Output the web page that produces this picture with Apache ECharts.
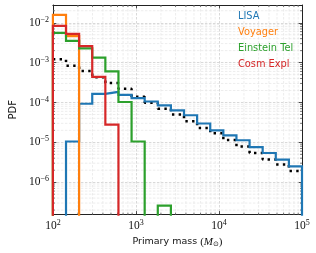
<!DOCTYPE html>
<html><head><meta charset="utf-8">
<script src="https://cdn.jsdelivr.net/npm/echarts@6/dist/echarts.min.js"></script>
<style>html,body{margin:0;padding:0;background:#fff}#c{width:316px;height:253px}</style>
</head><body><div id="c"></div>
<script>
// Bin edges (primary mass, solar masses), 19 log-spaced bins from 1e2 to 1e5
const binEdges = [100, 143.8, 206.9, 297.6, 428.1, 615.8, 885.9, 1274.3, 1833.0, 2636.7,
  3792.7, 5455.6, 7847.6, 11288, 16238, 23357, 33598, 48329, 69519, 100000];
// PDF per bin (0 = empty bin)
const lisa = [0, 1.05e-5, 9.3e-5, 1.65e-4, 1.85e-4, 1.56e-4, 1.29e-4, 1.06e-4, 8.45e-5, 6.35e-5,
  4.78e-5, 2.97e-5, 2.0e-5, 1.5e-5, 1.13e-5, 7.6e-6, 5.4e-6, 3.7e-6, 2.5e-6];
const voyager = [1.58e-2, 4.6e-3, 0, 0, 0, 0, 0, 0, 0, 0, 0, 0, 0, 0, 0, 0, 0, 0, 0];
const einstein = [5.6e-3, 3.5e-3, 2.27e-3, 1.34e-3, 6.0e-4, 1.03e-4, 1.05e-5, 0, 2.6e-7, 0,
  0, 0, 0, 0, 0, 0, 0, 0, 0];
const cosmic = [8.4e-3, 5.25e-3, 2.6e-3, 4.4e-4, 2.8e-5, 0, 0, 0, 0, 0, 0, 0, 0, 0, 0, 0, 0, 0, 0];
const reference = [1.21e-3, 8.3e-4, 6.2e-4, 4.3e-4, 3.1e-4, 2.2e-4, 1.39e-4, 9.9e-5, 7.0e-5, 5.0e-5,
  3.4e-5, 2.3e-5, 1.7e-5, 1.15e-5, 7.9e-6, 5.4e-6, 3.7e-6, 2.8e-6, 1.9e-6];
const seriesNames = ['LISA', 'Voyager', 'Einstein Tel', 'Cosm Expl'];
const seriesColors = ['#1f77b4', '#ff7f0e', '#2ca02c', '#d62728'];
// axis ranges and ticks
const X_MIN = 100, X_MAX = 100000;
const Y_MIN = 1.54e-7, Y_MAX = 0.0279;
const minorMultipliers = [2, 3, 4, 5, 6, 7, 8, 9];
const xDecades = [100, 1000, 10000];
const yDecades = [1e-7, 1e-6, 1e-5, 1e-4, 1e-3, 1e-2];

const FLOOR = 1e-12;
const xMinor = [];
xDecades.forEach(d => minorMultipliers.forEach(m => { const v = d * m; if (v > X_MIN && v < X_MAX) xMinor.push(v); }));
const yMinor = [];
yDecades.forEach(d => minorMultipliers.forEach(m => { const v = d * m; if (v > Y_MIN && v < Y_MAX) yMinor.push(v); }));

function histOutline(vals) {
  const pts = [[binEdges[0], FLOOR]];
  vals.forEach((v, i) => pts.push([binEdges[i], v > 0 ? v : FLOOR]));
  const last = vals[vals.length - 1];
  pts.push([binEdges[binEdges.length - 1], last > 0 ? last : FLOOR]);
  pts.push([binEdges[binEdges.length - 1], FLOOR]);
  return pts;
}
function stepLine(vals) {
  const pts = vals.map((v, i) => [binEdges[i], v]);
  pts.push([binEdges[binEdges.length - 1], vals[vals.length - 1]]);
  return pts;
}

const serif = 'Liberation Serif';
const sans = 'DejaVu Sans';
const txt = '#111';
function powLabel(v) {
  const e = Math.log10(v), r = Math.round(e);
  if (Math.abs(e - r) > 1e-6) return '';
  return '{b|10}{s|' + (r < 0 ? '\u2212' : '') + Math.abs(r) + '}';
}
const labelRich = {
  b: { fontFamily: serif, fontSize: 11.5, color: txt },
  s: { fontFamily: serif, fontSize: 8, color: txt, padding: [0, 0, 6, 0] }
};
const gridMajor = { show: true, lineStyle: { color: '#c8c8c8', width: 0.7, type: [2.5, 1.5] } };

function axisCommon(extra) {
  return Object.assign({
    type: 'log', logBase: 10,
    axisLine: { show: true, lineStyle: { color: '#222', width: 1 } },
    axisTick: { show: true, inside: true, length: 3.5, lineStyle: { color: '#222', width: 0.8 } },
    splitLine: { show: false }
  }, extra);
}

function minorRender(axis) {
  return function (params, api) {
    const cs = params.coordSys;
    const kids = [];
    const gl = { stroke: '#e0e0e0', lineWidth: 0.6, lineDash: [2.5, 1.5] };
    const tk = { stroke: '#222', lineWidth: 0.6 };
    if (axis === 'x') {
      const x = api.coord([api.value(0), api.value(1)])[0];
      const y0 = cs.y, y1 = cs.y + cs.height;
      kids.push({ type: 'line', shape: { x1: x, y1: y0, x2: x, y2: y1 }, style: gl });
      kids.push({ type: 'line', shape: { x1: x, y1: y1, x2: x, y2: y1 - 2 }, style: tk });
      kids.push({ type: 'line', shape: { x1: x, y1: y0, x2: x, y2: y0 + 2 }, style: tk });
    } else {
      const y = api.coord([api.value(0), api.value(1)])[1];
      const x0 = cs.x, x1 = cs.x + cs.width;
      kids.push({ type: 'line', shape: { x1: x0, y1: y, x2: x1, y2: y }, style: gl });
      kids.push({ type: 'line', shape: { x1: x0, y1: y, x2: x0 + 2, y2: y }, style: tk });
      kids.push({ type: 'line', shape: { x1: x1, y1: y, x2: x1 - 2, y2: y }, style: tk });
    }
    return { type: 'group', children: kids };
  };
}

const series = [
  { type: 'custom', name: '_xminor', xAxisIndex: 0, yAxisIndex: 0, z: 1, silent: true,
    encode: { x: 0, y: 1 }, data: xMinor.map(v => [v, Y_MAX]), renderItem: minorRender('x') },
  { type: 'custom', name: '_yminor', xAxisIndex: 0, yAxisIndex: 0, z: 1, silent: true,
    encode: { x: 0, y: 1 }, data: yMinor.map(v => [X_MAX, v]), renderItem: minorRender('y') },
  { type: 'line', name: 'reference', step: 'end', symbol: 'none', silent: true,
    data: stepLine(reference), z: 2,
    lineStyle: { color: '#000', width: 2.5, type: [2.4, 4.3], cap: 'butt' } }
];
[lisa, voyager, einstein, cosmic].forEach((vals, i) => {
  series.push({ type: 'line', name: seriesNames[i], step: 'end', symbol: 'none', silent: true,
    data: histOutline(vals), z: 3, clip: true,
    itemStyle: { color: seriesColors[i] },
    lineStyle: { color: seriesColors[i], width: 2.2, join: 'miter' } });
});

const chart = echarts.init(document.getElementById('c'), null, { renderer: 'canvas' });
chart.setOption({
  animation: false,
  backgroundColor: '#fff',
  grid: { left: 46, top: 5, width: 256, height: 212.3, containLabel: false },
  legend: {
    orient: 'vertical', left: 233, top: 10.5, padding: 0, itemGap: 4,
    itemWidth: 0, itemHeight: 0, selectedMode: false,
    data: seriesNames.map((n, i) => ({ name: n, icon: 'rect', textStyle: { color: seriesColors[i] } })),
    textStyle: { fontFamily: sans, fontSize: 9.8, lineHeight: 12 }
  },
  xAxis: [
    axisCommon({ min: X_MIN, max: X_MAX, position: 'bottom',
      splitLine: gridMajor,
      axisLabel: { margin: 4, formatter: powLabel, rich: labelRich },
      name: '{a|Primary mass }{p|(}{m|M}{o|\u2299}{p|)}', nameLocation: 'middle', nameGap: 17,
      nameTextStyle: { rich: {
        a: { fontFamily: sans, fontSize: 9.5, color: txt },
        p: { fontFamily: serif, fontSize: 11, color: txt },
        m: { fontFamily: serif, fontStyle: 'italic', fontSize: 11, color: txt },
        o: { fontFamily: sans, fontSize: 7, color: txt, padding: [5, 0, 0, 0] } } } }),
    axisCommon({ min: X_MIN, max: X_MAX, position: 'top', axisLabel: { show: false } })
  ],
  yAxis: [
    axisCommon({ min: Y_MIN, max: Y_MAX, position: 'left',
      splitLine: gridMajor,
      axisLabel: { margin: 4, formatter: powLabel, rich: labelRich },
      name: 'PDF', nameLocation: 'middle', nameGap: 30, nameRotate: 90,
      nameTextStyle: { fontFamily: sans, fontSize: 10, color: txt } }),
    axisCommon({ min: Y_MIN, max: Y_MAX, position: 'right', axisLabel: { show: false } })
  ],
  series: series
});
</script></body></html>
